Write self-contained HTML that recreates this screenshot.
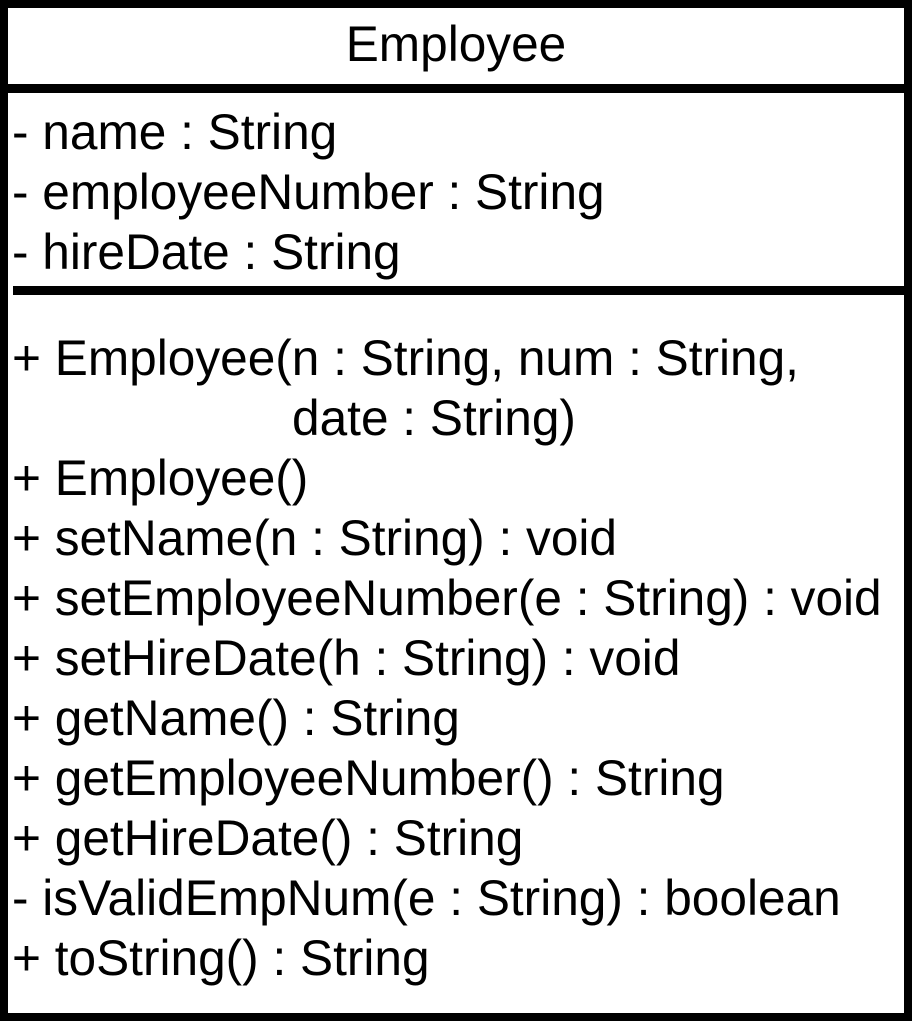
<!DOCTYPE html>
<html><head><style>
body{margin:0;width:912px;height:1021px;background:#fff;position:relative;overflow:hidden;font-family:"Liberation Sans",Arial,sans-serif;}
.b{position:absolute;background:#000}
.t{position:absolute;left:12px;font-size:49.6px;line-height:60px;white-space:pre;color:#000}
</style></head><body>
<div class="b" style="left:0;top:0;width:912px;height:8px"></div>
<div class="b" style="left:0;top:1013px;width:912px;height:8px"></div>
<div class="b" style="left:0;top:0;width:8px;height:1021px"></div>
<div class="b" style="left:904px;top:0;width:8px;height:1021px"></div>
<div class="b" style="left:0;top:84px;width:912px;height:9px"></div>
<div class="b" style="left:13px;top:286px;width:899px;height:9px"></div>
<div class="t" style="left:0;width:912px;text-align:center;top:14px">Employee</div>
<div class="t" style="top:102px">- name : String</div>
<div class="t" style="top:162px">- employeeNumber : String</div>
<div class="t" style="top:222px">- hireDate : String</div>
<div class="t" style="top:328px">+ Employee(n : String, num : String,</div>
<div class="t" style="top:388px;left:292px">date : String)</div>
<div class="t" style="top:448px">+ Employee()</div>
<div class="t" style="top:508px">+ setName(n : String) : void</div>
<div class="t" style="top:568px">+ setEmployeeNumber(e : String) : void</div>
<div class="t" style="top:628px">+ setHireDate(h : String) : void</div>
<div class="t" style="top:688px">+ getName() : String</div>
<div class="t" style="top:748px">+ getEmployeeNumber() : String</div>
<div class="t" style="top:808px">+ getHireDate() : String</div>
<div class="t" style="top:868px">- isValidEmpNum(e : String) : boolean</div>
<div class="t" style="top:928px">+ toString() : String</div>
</body></html>
